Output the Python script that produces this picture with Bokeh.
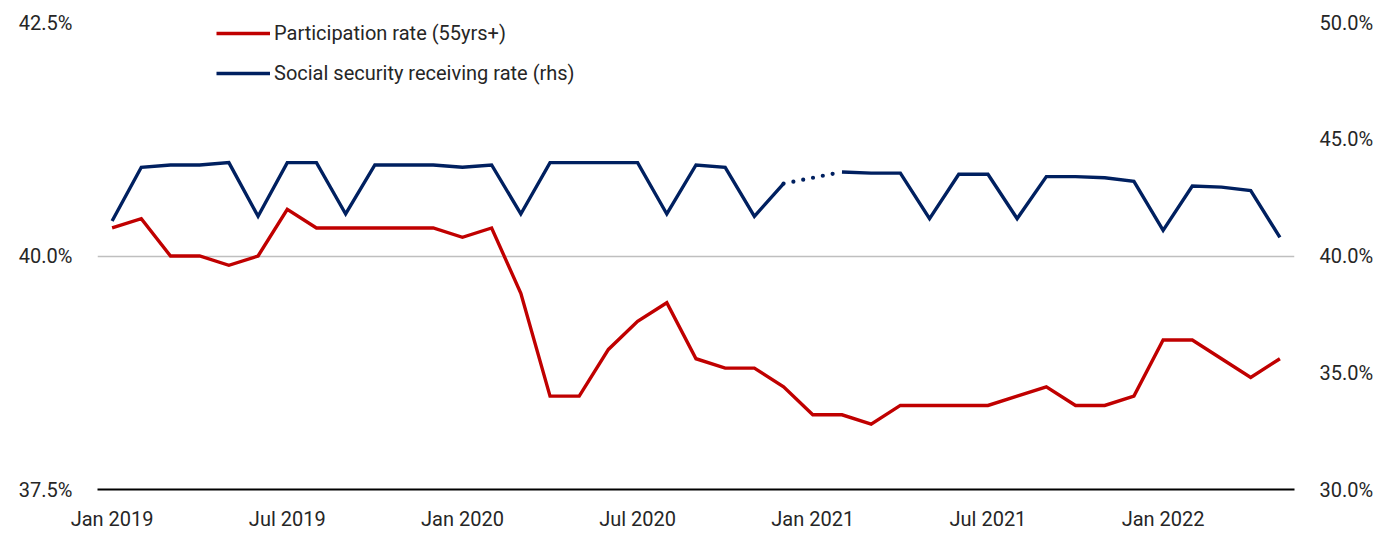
from bokeh.plotting import figure
from bokeh.models import Range1d, LinearAxis, FixedTicker, Legend, LegendItem, NumeralTickFormatter
from bokeh.embed import file_html
from bokeh.resources import INLINE
import numpy as np

# Monthly data, Jan 2019 - May 2022
months = ["Jan 2019", "Feb 2019", "Mar 2019", "Apr 2019", "May 2019", "Jun 2019",
          "Jul 2019", "Aug 2019", "Sep 2019", "Oct 2019", "Nov 2019", "Dec 2019",
          "Jan 2020", "Feb 2020", "Mar 2020", "Apr 2020", "May 2020", "Jun 2020",
          "Jul 2020", "Aug 2020", "Sep 2020", "Oct 2020", "Nov 2020", "Dec 2020",
          "Jan 2021", "Feb 2021", "Mar 2021", "Apr 2021", "May 2021", "Jun 2021",
          "Jul 2021", "Aug 2021", "Sep 2021", "Oct 2021", "Nov 2021", "Dec 2021",
          "Jan 2022", "Feb 2022", "Mar 2022", "Apr 2022", "May 2022"]

# Labor force participation rate, age 55+ (%)
participation = [40.3, 40.4, 40.0, 40.0, 39.9, 40.0, 40.5, 40.3, 40.3, 40.3, 40.3, 40.3,
                 40.2, 40.3, 39.6, 38.5, 38.5, 39.0, 39.3, 39.5, 38.9, 38.8, 38.8, 38.6,
                 38.3, 38.3, 38.2, 38.4, 38.4, 38.4, 38.4, 38.5, 38.6, 38.4, 38.4, 38.5,
                 39.1, 39.1, 38.9, 38.7, 38.9]

# Share receiving social security (%), Jan 2021 not available
social_security = [41.5, 43.8, 43.9, 43.9, 44.0, 41.7, 44.0, 44.0, 41.8, 43.9, 43.9, 43.9,
                   43.8, 43.9, 41.8, 44.0, 44.0, 44.0, 44.0, 41.8, 43.9, 43.8, 41.7, 43.1,
                   None, 43.6, 43.55, 43.55, 41.6, 43.5, 43.5, 41.6, 43.4, 43.4, 43.35, 43.2,
                   41.1, 43.0, 42.95, 42.8, 40.8]

tick_months = ["Jan 2019", "Jul 2019", "Jan 2020", "Jul 2020", "Jan 2021", "Jul 2021", "Jan 2022"]
left_ticks = [37.5, 40.0, 42.5]
right_ticks = [30.0, 35.0, 40.0, 45.0, 50.0]

RED = "#C00000"
NAVY = "#002060"
FONT = "Roboto"
FONT_SIZE = "20px"
TEXT = "#262626"

x = np.arange(len(months))
pr = np.array(participation, dtype=float) / 100
ss = np.array([np.nan if v is None else v for v in social_security], dtype=float) / 100

p = figure(width=1379, height=533, output_backend="svg", toolbar_location=None,
           x_range=Range1d(-0.5, len(months) - 0.5),
           y_range=Range1d(left_ticks[0] / 100, left_ticks[-1] / 100),
           min_border_left=97, min_border_right=85, min_border_top=22, min_border_bottom=43)
p.extra_y_ranges = {"rhs": Range1d(right_ticks[0] / 100, right_ticks[-1] / 100)}
p.outline_line_color = None
p.background_fill_color = "white"
p.border_fill_color = "white"

# grid
p.xgrid.visible = False
p.ygrid.ticker = FixedTicker(ticks=[v / 100 for v in left_ticks[1:]])
p.ygrid.grid_line_color = "#BFBFBF"
p.ygrid.grid_line_width = 1.5


def style_axis(ax, standoff):
    ax.major_tick_line_color = None
    ax.minor_tick_line_color = None
    ax.major_label_standoff = standoff
    ax.major_label_text_font = FONT
    ax.major_label_text_font_size = FONT_SIZE
    ax.major_label_text_color = TEXT


# bottom axis
xa = p.xaxis[0]
xa.ticker = FixedTicker(ticks=[months.index(m) for m in tick_months])
xa.major_label_overrides = {months.index(m): m for m in tick_months}
xa.axis_line_color = "black"
xa.axis_line_width = 2
style_axis(xa, 11)

# left axis
ya = p.yaxis[0]
ya.ticker = FixedTicker(ticks=[v / 100 for v in left_ticks])
ya.formatter = NumeralTickFormatter(format="0.0%")
ya.axis_line_color = None
style_axis(ya, 19)

# right axis
ra = LinearAxis(y_range_name="rhs", ticker=FixedTicker(ticks=[v / 100 for v in right_ticks]),
                formatter=NumeralTickFormatter(format="0.0%"))
ra.axis_line_color = None
style_axis(ra, 19)
p.add_layout(ra, "right")

# series
r_pr = p.line(x, pr, line_color=RED, line_width=3.4, line_join="miter")
r_ss = p.line(x, ss, line_color=NAVY, line_width=3.4, line_join="miter", y_range_name="rhs")

# dotted bridge across the missing month
gap = [i for i, v in enumerate(social_security) if v is None]
for g in gap:
    p.line([g - 1, g + 1], [ss[g - 1], ss[g + 1]], line_color=NAVY, line_width=4.2,
           line_dash="0 10", line_cap="round", y_range_name="rhs")

legend = Legend(items=[LegendItem(label="Participation rate (55yrs+)", renderers=[r_pr]),
                       LegendItem(label="Social security receiving rate (rhs)", renderers=[r_ss])],
                location=(119, 401), orientation="vertical")
legend.background_fill_alpha = 0
legend.border_line_color = None
legend.label_text_font = FONT
legend.label_text_font_size = FONT_SIZE
legend.label_text_color = TEXT
legend.glyph_width = 54
legend.glyph_height = 30
legend.label_standoff = 4
legend.spacing = 10
legend.padding = 0
legend.margin = 0
p.add_layout(legend, "center")

open("out.html", "w").write(file_html(p, INLINE))
